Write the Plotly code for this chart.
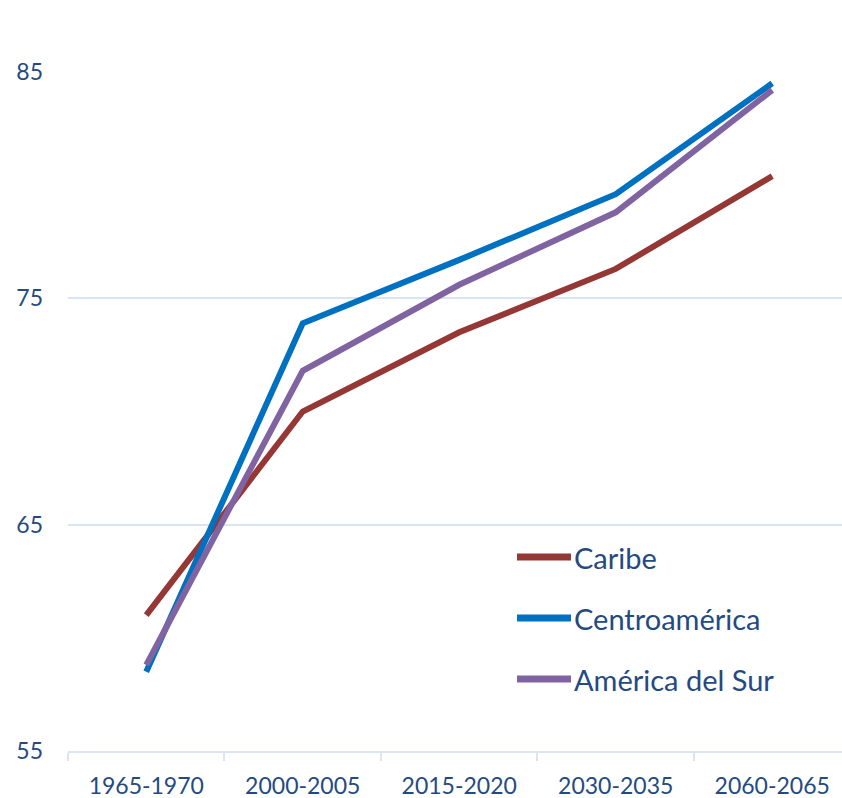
import plotly.graph_objects as go

categories = ["1965-1970", "2000-2005", "2015-2020", "2030-2035", "2060-2065"]
caribe = [61.0, 70.0, 73.5, 76.3, 80.4]
centroamerica = [58.5, 73.9, 76.7, 79.6, 84.5]
america_sur = [58.8, 71.8, 75.6, 78.8, 84.2]
y_ticks = [55, 65, 75, 85]

series = [
    ("Caribe", caribe, "#953735"),
    ("Centroamérica", centroamerica, "#0070C0"),
    ("América del Sur", america_sur, "#8064A2"),
]

W, H = 842, 798
ML, MR, MT, MB = 68, 0, 72, 47
PW, PH = W - ML - MR, H - MT - MB
FONT = "Lato"
TXT = "#254A7F"
GRID = "#D9E5F3"

fig = go.Figure()
for name, vals, col in series:
    fig.add_trace(go.Scatter(x=categories, y=vals, mode="lines", name=name,
                             line=dict(color=col, width=6), showlegend=False))

def px2paper(x, y):
    return (x - ML) / PW, (H - MB - y) / PH

legend_y = [557, 618, 679]
for (name, vals, col), ly in zip(series, legend_y):
    x0, y0 = px2paper(517, ly)
    x1, _ = px2paper(571, ly)
    fig.add_shape(type="line", xref="paper", yref="paper", x0=x0, x1=x1, y0=y0, y1=y0,
                  line=dict(color=col, width=7))
    tx, _ = px2paper(572, ly)
    fig.add_annotation(xref="paper", yref="paper", x=tx, y=y0, text=name, showarrow=False,
                       xanchor="left", yanchor="middle",
                       font=dict(family=FONT, size=29, color=TXT))

fig.update_layout(
    width=W, height=H,
    margin=dict(l=ML, r=MR, t=MT, b=MB),
    paper_bgcolor="white", plot_bgcolor="white",
    font=dict(family=FONT, size=24, color=TXT),
    xaxis=dict(type="category", range=[-0.5, 4.446], showgrid=False,
               showline=True, linecolor=GRID, linewidth=2,
               ticks="outside", tickson="boundaries", ticklen=8, tickcolor=GRID, tickwidth=2,
               tickfont=dict(family=FONT, size=23, color=TXT), ticklabelstandoff=13),
    yaxis=dict(range=[55, 85], tickvals=y_ticks, showgrid=True, gridcolor=GRID, gridwidth=2,
               zeroline=False, showline=False, ticks="",
               tickfont=dict(family=FONT, size=23, color=TXT), ticklabelstandoff=24),
    showlegend=False,
)

fig.write_html("out.html", config={"displayModeBar": False},
               post_script="document.body.style.margin='0';document.body.style.overflow='hidden';")
